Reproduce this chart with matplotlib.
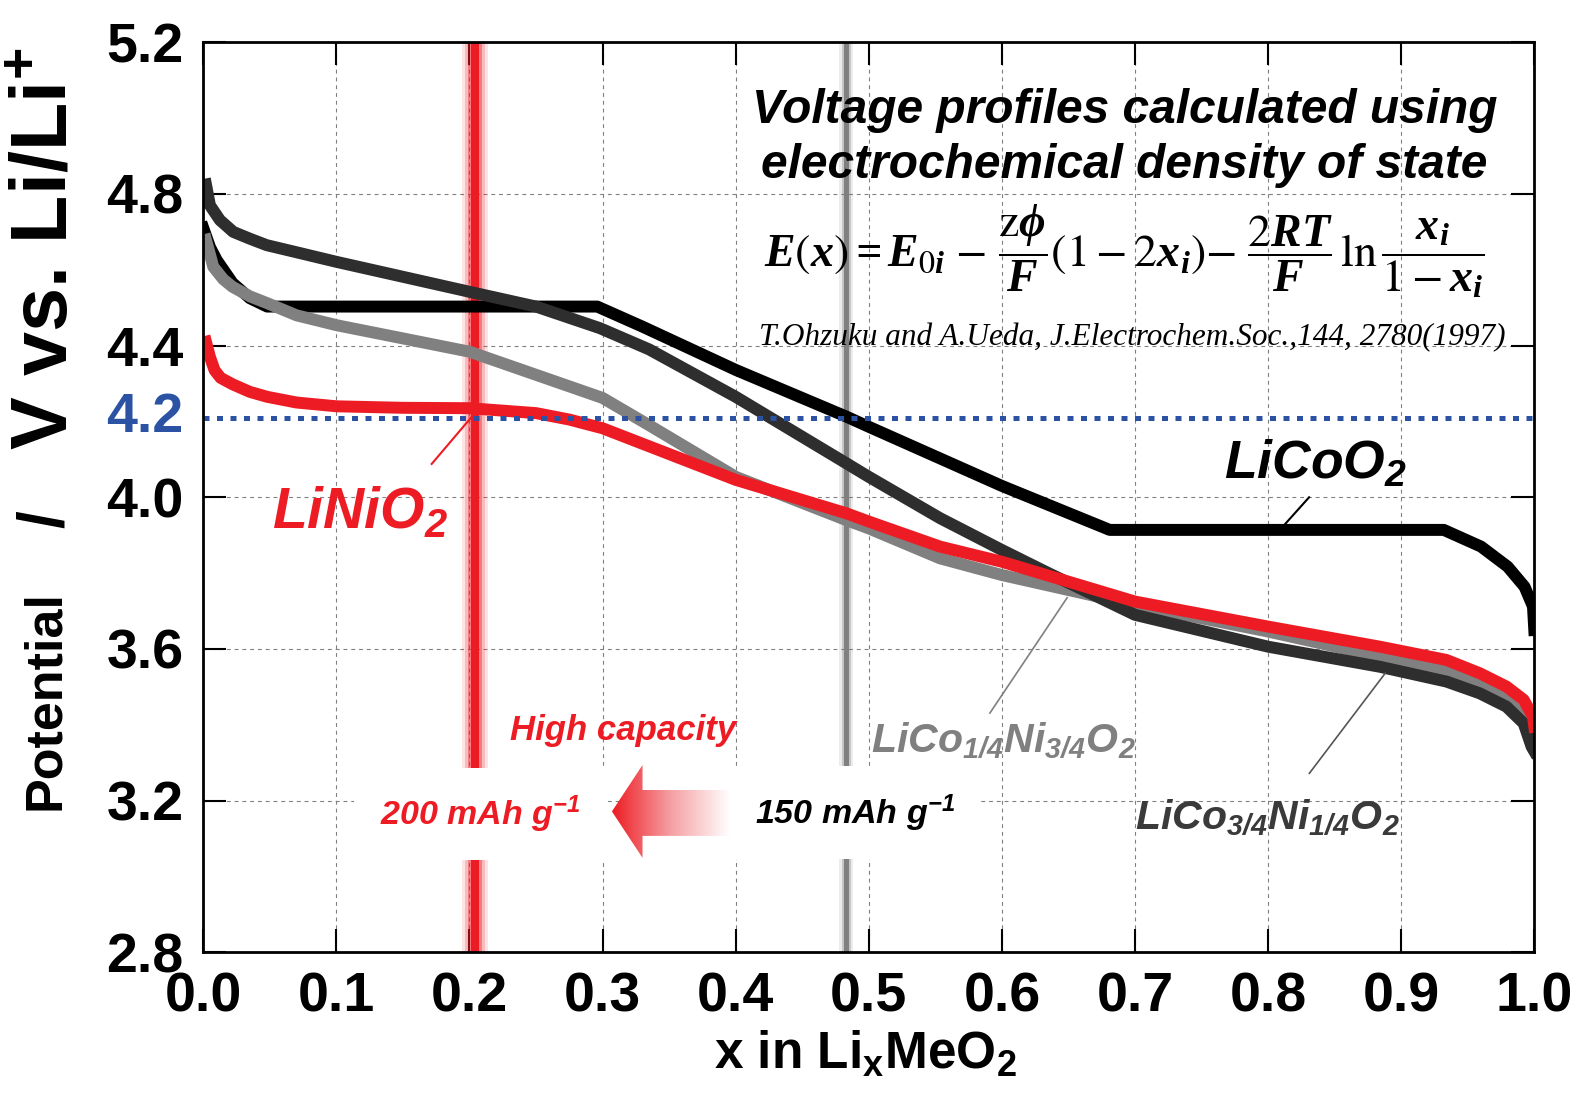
import numpy as np
import matplotlib
matplotlib.use("Agg")
import matplotlib.pyplot as plt
from matplotlib.colors import LinearSegmentedColormap
from matplotlib.patches import Polygon

plt.rcParams['font.family'] = ['Liberation Sans', 'DejaVu Sans']
plt.rcParams['mathtext.default'] = 'regular'

# LiCoO2
x_co = [0.0, 0.005, 0.01, 0.022, 0.035, 0.048, 0.296, 0.33, 0.40, 0.483, 0.50, 0.60,
        0.681, 0.932, 0.96, 0.98, 0.9927, 0.999, 1.0]
v_co = [4.71, 4.66, 4.626, 4.565, 4.525, 4.503, 4.503, 4.45, 4.336, 4.213, 4.186, 4.03,
        3.914, 3.914, 3.87, 3.817, 3.764, 3.712, 3.65]

# LiCo3/4Ni1/4O2
x_co34 = [0.002, 0.005, 0.0125, 0.0225, 0.035, 0.0476, 0.0727, 0.1, 0.2, 0.25, 0.298, 0.335,
          0.4, 0.483, 0.5, 0.5535, 0.6, 0.635, 0.7, 0.8, 0.884, 0.934, 0.959, 0.979, 0.992,
          0.998, 1.0]
v_co34 = [4.825, 4.77, 4.731, 4.70, 4.682, 4.665, 4.644, 4.621, 4.542, 4.503, 4.446, 4.39,
          4.265, 4.09, 4.054, 3.945, 3.861, 3.80, 3.69, 3.606, 3.553, 3.514, 3.483, 3.448, 3.404,
          3.342, 3.33]

# LiCo1/4Ni3/4O2
x_co14 = [0.002, 0.0075, 0.015, 0.022, 0.035, 0.048, 0.07, 0.1, 0.2, 0.3, 0.335, 0.4, 0.483,
          0.5, 0.5535, 0.6, 0.7, 0.8, 0.884, 0.934, 0.959, 0.979, 0.992, 0.998, 1.0]
v_co14 = [4.679, 4.608, 4.575, 4.555, 4.53, 4.512, 4.48, 4.454, 4.384, 4.262, 4.19, 4.054, 3.94,
          3.918, 3.839, 3.795, 3.716, 3.646, 3.58, 3.545, 3.51, 3.466, 3.422, 3.36, 3.345]

# LiNiO2
x_ni = [0.002, 0.005, 0.0085, 0.013, 0.022, 0.035, 0.048, 0.07, 0.1, 0.15, 0.2, 0.25, 0.275,
        0.3, 0.4, 0.483, 0.5, 0.5535, 0.6, 0.7, 0.8, 0.884, 0.934, 0.959, 0.979, 0.992, 0.999,
        1.0]
v_ni = [4.41, 4.37, 4.335, 4.315, 4.298, 4.278, 4.265, 4.25, 4.24, 4.236, 4.235, 4.222, 4.205,
        4.182, 4.046, 3.958, 3.936, 3.87, 3.83, 3.725, 3.659, 3.606, 3.571, 3.536, 3.501, 3.466,
        3.422, 3.395]

cutoff_v = 4.21
x_200 = 0.204
x_150 = 0.483
xticks = np.round(np.arange(0, 1.01, 0.1), 1)
yticks = [2.8, 3.2, 3.6, 4.0, 4.4, 4.8, 5.2]

RED = '#ED1C24'
DARK = '#2E2E2E'
GRAY = '#808080'
BLUE = '#2B52A3'

fig = plt.figure(figsize=(15.79, 10.98), dpi=100)
ax = fig.add_axes([0.12875, 0.1327, 0.84294, 0.82878])

# blurred vertical markers
for w, a in [(26, 0.12), (20, 0.2), (14, 0.4), (8, 1.0)]:
    ax.axvline(x_200, color=RED, lw=w * 0.72, alpha=a, zorder=1.5, solid_capstyle='butt')
for w, a in [(14, 0.15), (9, 0.35), (5, 1.0)]:
    ax.axvline(x_150, color=GRAY, lw=w * 0.72, alpha=a, zorder=1.5, solid_capstyle='butt')

ax.plot(x_co, v_co, color='black', lw=8.6, zorder=3, solid_joinstyle='round')
ax.plot(x_co14, v_co14, color=GRAY, lw=8.6, zorder=3.1, solid_joinstyle='round')
ax.plot(x_co34, v_co34, color=DARK, lw=8.6, zorder=3.2, solid_joinstyle='round')
ax.plot(x_ni, v_ni, color=RED, lw=8.6, zorder=3.3, solid_joinstyle='round')

ax.axhline(cutoff_v, color=BLUE, lw=3.6, linestyle=(0, (1.2, 1.5)), zorder=4)

ax.set_xlim(0, 1.0)
ax.set_ylim(2.8, 5.2)
ax.set_xticks(xticks)
ax.set_xticklabels(['%.1f' % t for t in xticks], fontweight='bold', fontsize=40)
ax.set_yticks(yticks)
ax.set_yticklabels(['%.1f' % t for t in yticks], fontweight='bold', fontsize=40)
ax.tick_params(direction='in', length=16.5, width=1.5, top=True, right=True, pad=14)
ax.grid(True, color=GRAY, lw=0.8, linestyle=(0, (3.5, 3.5)))
ax.set_axisbelow(True)
for s in ax.spines.values():
    s.set_linewidth(2.0)
    s.set_zorder(6)

ax.text(-0.015, cutoff_v, '4.2', color=BLUE, fontsize=40, fontweight='bold',
        ha='right', va='center', transform=ax.get_yaxis_transform())

# axis titles
fig.text(0.029, 0.3625, 'Potential', rotation=90, ha='center', va='center',
         fontweight='bold', fontsize=37.5)
fig.text(0.029, 0.527, '/', rotation=90, ha='center', va='center',
         fontweight='bold', fontsize=46)
fig.text(0.03, 0.773, r'V vs. Li/Li$^{+}$', rotation=90, ha='center', va='center',
         fontweight='bold', fontsize=57)
fig.text(0.548, 0.04, r'x in Li$_{x}$MeO$_{2}$', ha='center', va='center',
         fontweight='bold', fontsize=37)

# title block
ax.text(0.692, 4.986, 'Voltage profiles calculated using', ha='center', va='baseline',
        fontsize=34.5, fontweight='bold', style='italic')
ax.text(0.692, 4.841, 'electrochemical density of state', ha='center', va='baseline',
        fontsize=34.5, fontweight='bold', style='italic')
eq = (r'$E\left(x\right) = E_{\mathrm{0}i}\ \mathrm{-}\ \dfrac{\mathrm{z}\phi}{F}'
      r'\left(\mathrm{1-2}x_{i}\right)\mathrm{-}\ \dfrac{\mathrm{2}RT}{F}\,\mathrm{ln}\,'
      r'\dfrac{x_{i}}{\mathrm{1-}x_{i}}$')
ax.text(0.692, 4.648, eq, ha='center', va='center', fontsize=33, family='Liberation Serif',
        style='italic', fontweight='bold', math_fontfamily='stix')
ax.text(0.698, 4.402, 'T.Ohzuku and A.Ueda, J.Electrochem.Soc.,144, 2780(1997)', ha='center',
        va='baseline', fontsize=22.5, family='Liberation Serif', style='italic')

# curve labels
ax.text(0.0514, 3.918, r'LiNiO$_{2}$', color=RED, fontsize=41, fontweight='bold',
        style='italic', ha='left', va='baseline')
ax.plot([0.1716, 0.2028], [4.088, 4.217], color=RED, lw=1.5, zorder=4.5)
ax.text(0.767, 4.05, r'LiCoO$_{2}$', color='black', fontsize=38.5, fontweight='bold',
        style='italic', ha='left', va='baseline')
ax.plot([0.8308, 0.8119], [4.0, 3.926], color='black', lw=1.5, zorder=4.5)
ax.text(0.502, 3.329, r'LiCo$_{1/4}$Ni$_{3/4}$O$_{2}$', color=GRAY, fontsize=29.5,
        fontweight='bold', style='italic', ha='left', va='baseline')
ax.plot([0.591, 0.649], [3.431, 3.735], color=GRAY, lw=1.2, zorder=4.5)
ax.text(0.70, 3.127, r'LiCo$_{3/4}$Ni$_{1/4}$O$_{2}$', color='#3A3A3A', fontsize=29.5,
        fontweight='bold', style='italic', ha='left', va='baseline')
ax.plot([0.831, 0.888], [3.272, 3.536], color='#555555', lw=1.2, zorder=4.5)

# capacity annotation
ax.text(0.3155, 3.386, 'High capacity', color=RED, fontsize=25, fontweight='bold',
        style='italic', ha='center', va='center', zorder=5)
box = dict(boxstyle='square,pad=0.75', facecolor='white', edgecolor='none')
ax.text(0.208, 3.165, r'200 mAh g$^{-1}$', color=RED, fontsize=24.5, fontweight='bold',
        style='italic', ha='center', va='center', zorder=5, bbox=box)
ax.text(0.4896, 3.168, r'150 mAh g$^{-1}$', color='black', fontsize=24.5, fontweight='bold',
        style='italic', ha='center', va='center', zorder=5, bbox=box)

# gradient arrow pointing to higher capacity
tip_x, head_x, tail_x = 0.307, 0.330, 0.3956
head_lo, head_hi = 3.049, 3.294
shaft_lo, shaft_hi = 3.107, 3.228
arrow = Polygon([(tip_x, (head_lo + head_hi) / 2), (head_x, head_hi), (head_x, shaft_hi),
                 (tail_x, shaft_hi), (tail_x, shaft_lo), (head_x, shaft_lo), (head_x, head_lo)],
                closed=True, facecolor='none', edgecolor='none', transform=ax.transData)
ax.add_patch(arrow)
cmap = LinearSegmentedColormap.from_list('fade', [RED, '#F5A0A3', 'white'])
grad = ax.imshow(np.linspace(0, 1, 256).reshape(1, -1), cmap=cmap, aspect='auto',
                 extent=[tip_x, tail_x, head_lo, head_hi], zorder=5.5, interpolation='bilinear')
grad.set_clip_path(arrow)

ax.set_xlim(0, 1.0)
ax.set_ylim(2.8, 5.2)

fig.savefig('out.png', dpi=100)
